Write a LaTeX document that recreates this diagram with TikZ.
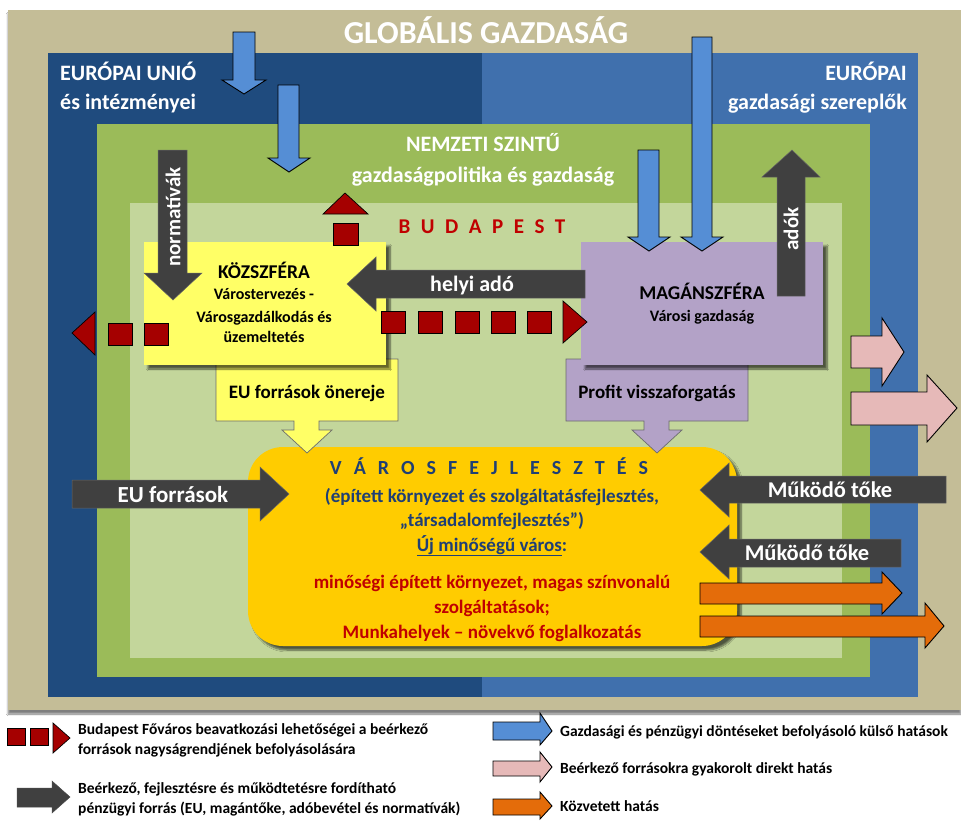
\documentclass[tikz,border=0pt]{standalone}
\usepackage{fontspec}
\setmainfont{Carlito}
\usetikzlibrary{shadows,shadows.blur}
\definecolor{beige}{HTML}{C4BD97}
\definecolor{dblue}{HTML}{1F4B7E}
\definecolor{mblue}{HTML}{4070AD}
\definecolor{green1}{HTML}{9BBB59}
\definecolor{green2}{HTML}{C3D69B}
\definecolor{kyellow}{HTML}{FFFF66}
\definecolor{mpurple}{HTML}{B3A2C7}
\definecolor{gold}{HTML}{FFCC00}
\definecolor{arrblue}{HTML}{558ED5}
\definecolor{arrgray}{HTML}{404040}
\definecolor{sqred}{HTML}{A50000}
\definecolor{txtred}{HTML}{C00000}
\definecolor{arrorange}{HTML}{E46C0A}
\definecolor{arrpink}{HTML}{E6B9B8}
\definecolor{txtblue}{HTML}{1F3F75}
\tikzset{
  bluearr/.style={fill=arrblue,draw=black,line width=0.9pt},
  grayarr/.style={fill=arrgray,draw=arrgray!80!white,line width=0.5pt},
  orangearr/.style={fill=arrorange,draw=black,line width=0.9pt},
  pinkarr/.style={fill=arrpink,draw=black,line width=0.9pt},
  redsq/.style={fill=sqred,draw=black,line width=0.7pt},
  boxshadow/.style={blur shadow={shadow xshift=4pt,shadow yshift=-4pt,shadow blur steps=6,shadow opacity=60}},
  wtxt/.style={text=white,inner sep=0pt,anchor=base},
  btxt/.style={text=black,inner sep=0pt,anchor=base},
  calloutline/.style={draw=gray!85!black,line width=0.7pt},
  legtxt/.style={btxt,anchor=base west,font=\bfseries\fontsize{15.5}{18}\selectfont},
}
\begin{document}
\begin{tikzpicture}[x=1pt,y=-1pt,font=\bfseries]
\useasboundingbox (0,0) rectangle (961,820);
\fill[white] (0,0) rectangle (961,820);
% layers
\fill[beige,blur shadow={shadow xshift=0pt,shadow yshift=-4pt,shadow blur steps=5,shadow opacity=50}] (8,10) rectangle (961,710);
\fill[dblue] (48,53) rectangle (482,697);
\fill[mblue] (482,53) rectangle (918,697);
\fill[green1] (97,124) rectangle (870,677);
\fill[green2] (130,203) rectangle (842,658);
% titles
\node[wtxt,font=\bfseries\fontsize{32}{35}\selectfont] (glob) at (486,43) {GLOBÁLIS GAZDASÁG};
\node[wtxt,anchor=base west,font=\bfseries\fontsize{22}{25}\selectfont] (eu1) at (60,80) {EURÓPAI UNIÓ};
\node[wtxt,anchor=base west,font=\bfseries\fontsize{22}{25}\selectfont] (eu2) at (60,109) {és intézményei};
\node[wtxt,anchor=base east,font=\bfseries\fontsize{22}{25}\selectfont] (eg1) at (907,80) {EURÓPAI};
\node[wtxt,anchor=base east,font=\bfseries\fontsize{22}{25}\selectfont] (eg2) at (907,109) {gazdasági szereplők};
\node[wtxt,font=\bfseries\fontsize{22}{25}\selectfont] (nem1) at (483,151) {NEMZETI SZINTŰ};
\node[wtxt,font=\bfseries\fontsize{22}{25}\selectfont] (nem2) at (483,182) {gazdaságpolitika és gazdaság};
\node[btxt,text=txtred,font=\bfseries\fontsize{21}{24}\selectfont] (bp) at (482,233) {\spaceskip=10.5pt B U D A P E S T};
% Varosfejlesztes box
\node[fill=gold,rounded corners=35pt,minimum width=489pt,minimum height=199pt,inner sep=0pt,boxshadow] (varos) at (492.5,546.5) {};
% callouts
\draw[calloutline,fill=kyellow] (216,359) -- (398,359) -- (398,421) -- (319,421) -- (319,430) -- (332,430) -- (307,453) -- (282,430) -- (294,430) -- (294,421) -- (216,421) -- cycle;
\draw[calloutline,fill=mpurple] (566,359) -- (748,359) -- (748,421) -- (669,421) -- (669,430) -- (682,430) -- (657,453) -- (632,430) -- (644,430) -- (644,421) -- (566,421) -- cycle;
\node[btxt,font=\bfseries\fontsize{19}{22}\selectfont] (onr) at (307,398) {EU források önereje};
\node[btxt,font=\bfseries\fontsize{19}{22}\selectfont] (prof) at (657,398) {Profit visszaforgatás};
% boxes
\node[fill=kyellow,minimum width=242pt,minimum height=123pt,inner sep=0pt,boxshadow] (koz) at (265,303.5) {};
\node[fill=mpurple,minimum width=242pt,minimum height=123pt,inner sep=0pt,boxshadow] (mag) at (702,303.5) {};
\node[btxt,font=\bfseries\fontsize{19.5}{22}\selectfont] (koz1) at (264,278) {KÖZSZFÉRA};
\node[btxt,font=\bfseries\fontsize{16}{19}\selectfont] (koz2) at (264,299) {Várostervezés -};
\node[btxt,font=\bfseries\fontsize{16}{19}\selectfont] (koz3) at (264,322) {Városgazdálkodás és};
\node[btxt,font=\bfseries\fontsize{16}{19}\selectfont] (koz4) at (264,342) {üzemeltetés};
\node[btxt,font=\bfseries\fontsize{19.5}{22}\selectfont] (mag1) at (702,299) {MAGÁNSZFÉRA};
\node[btxt,font=\bfseries\fontsize{16}{19}\selectfont] (mag2) at (702,321) {Városi gazdaság};
% blue arrows
\draw[bluearr] (233,32) -- (255,32) -- (255,80) -- (266,80) -- (244,94) -- (222,80) -- (233,80) -- cycle;
\draw[bluearr] (278,85) -- (299,85) -- (299,158) -- (310,158) -- (289,172) -- (268,158) -- (278,158) -- cycle;
\draw[bluearr] (638,150) -- (659,150) -- (659,237) -- (670,237) -- (649,251) -- (628,237) -- (638,237) -- cycle;
\draw[bluearr] (692,37) -- (712,37) -- (712,237) -- (723,237) -- (702,251) -- (681,237) -- (692,237) -- cycle;
% gray arrows
\draw[grayarr] (158,150) -- (187,150) -- (187,273) -- (202,273) -- (173,300) -- (144,273) -- (158,273) -- cycle;
\node[wtxt,anchor=center,rotate=90,font=\bfseries\fontsize{21}{23}\selectfont] (norm) at (173,217) {normatívák};
\draw[grayarr] (777,296) -- (805,296) -- (805,177) -- (820,177) -- (792,150) -- (762,177) -- (777,177) -- cycle;
\node[wtxt,anchor=center,rotate=90,font=\bfseries\fontsize{21}{23}\selectfont] (ado) at (791,229) {adók};
\draw[grayarr] (585,270) -- (585,298) -- (376,298) -- (376,311) -- (347,284) -- (376,257) -- (376,270) -- cycle;
\node[wtxt,font=\bfseries\fontsize{22}{24}\selectfont] (helyi) at (472,291) {helyi adó};
\draw[grayarr] (72,480) -- (260,480) -- (260,467) -- (289,494) -- (260,521) -- (260,508) -- (72,508) -- cycle;
\node[wtxt,font=\bfseries\fontsize{23}{25}\selectfont] (euf) at (173,502) {EU források};
\draw[grayarr] (946,476) -- (946,503) -- (729,503) -- (729,517) -- (700,490) -- (729,463) -- (729,476) -- cycle;
\node[wtxt,font=\bfseries\fontsize{22.5}{25}\selectfont] (mt1) at (830,497) {Működő tőke};
\draw[grayarr] (901,539) -- (901,567) -- (729,567) -- (729,579) -- (700,552) -- (729,525) -- (729,539) -- cycle;
\node[wtxt,font=\bfseries\fontsize{22.5}{25}\selectfont] (mt2) at (807,560) {Működő tőke};
% orange arrows
\draw[orangearr] (700,583) -- (882,583) -- (882,572) -- (902,593) -- (882,614) -- (882,604) -- (700,604) -- cycle;
\draw[orangearr] (700,616) -- (925,616) -- (925,603) -- (944,626) -- (925,648) -- (925,637) -- (700,637) -- cycle;
% pink arrows
\draw[pinkarr] (851,336) -- (882,336) -- (882,318) -- (904,352) -- (882,386) -- (882,368) -- (851,368) -- cycle;
\draw[pinkarr] (851,392) -- (927,392) -- (927,375) -- (957,408) -- (927,442) -- (927,425) -- (851,425) -- cycle;
% red dashed arrows
\draw[redsq] (323,214) -- (368,214) -- (345,193) -- cycle;
\draw[redsq] (333,223) rectangle (358,245);
\draw[redsq] (95,312) -- (95,355) -- (72,333) -- cycle;
\draw[redsq] (108,323) rectangle (132,345);
\draw[redsq] (144,323) rectangle (168,345);
\foreach \xx in {381,418,455,491,527} \draw[redsq] (\xx,311) rectangle (\xx+24,333);
\draw[redsq] (563,301) -- (563,343) -- (587,322) -- cycle;
% Varosfejlesztes text
\node[btxt,text=txtblue,font=\bfseries\fontsize{20}{23}\selectfont] (vf) at (489,474) {\spaceskip=12pt V Á R O S F E J L E S Z T É S};
\node[btxt,text=txtblue,font=\bfseries\fontsize{19}{22}\selectfont] (vf1) at (492,502) {(épített környezet és szolgáltatásfejlesztés,};
\node[btxt,text=txtblue,font=\bfseries\fontsize{19}{22}\selectfont] (vf2) at (492,526) {„társadalomfejlesztés”)};
\node[btxt,text=txtblue,font=\bfseries\fontsize{19}{22}\selectfont] (vf3) at (492,551) {\underline{Új minőségű város}:};
\node[btxt,text=txtred,font=\bfseries\fontsize{19}{22}\selectfont] (vf4) at (492,588) {minőségi épített környezet, magas színvonalú};
\node[btxt,text=txtred,font=\bfseries\fontsize{19}{22}\selectfont] (vf5) at (492,613) {szolgáltatások;};
\node[btxt,text=txtred,font=\bfseries\fontsize{19}{22}\selectfont] (vf6) at (492,638) {Munkahelyek – növekvő foglalkozatás};
% legend
\draw[redsq] (7,728) rectangle (25,745);
\draw[redsq] (30,728) rectangle (48,745);
\draw[redsq] (53,723) -- (53,753) -- (70,738) -- cycle;
\node[legtxt] (lg1) at (78,734) {Budapest Főváros beavatkozási lehetőségei a beérkező};
\node[legtxt] (lg2) at (78,754) {források nagyságrendjének befolyásolására};
\draw[grayarr,draw=black!70] (17,788) -- (52,788) -- (52,781) -- (70,797) -- (52,813) -- (52,807) -- (17,807) -- cycle;
\node[legtxt] (lg3) at (78,793) {Beérkező, fejlesztésre és működtetésre fordítható};
\node[legtxt] (lg4) at (78,813) {pénzügyi forrás (EU, magántőke, adóbevétel és normatívák)};
\draw[bluearr] (493,722) -- (540,722) -- (540,713) -- (552,731) -- (540,745) -- (540,740) -- (493,740) -- cycle;
\node[legtxt] (lg5) at (560,736) {Gazdasági és pénzügyi döntéseket befolyásoló külső hatások};
\draw[pinkarr] (493,761) -- (540,761) -- (540,752) -- (552,767) -- (540,782) -- (540,776) -- (493,776) -- cycle;
\node[legtxt] (lg6) at (560,773) {Beérkező forrásokra gyakorolt direkt hatás};
\draw[orangearr] (493,799) -- (540,799) -- (540,792) -- (552,806) -- (540,819) -- (540,815) -- (493,815) -- cycle;
\node[legtxt] (lg7) at (560,811) {Közvetett hatás};
\end{tikzpicture}
\end{document}
